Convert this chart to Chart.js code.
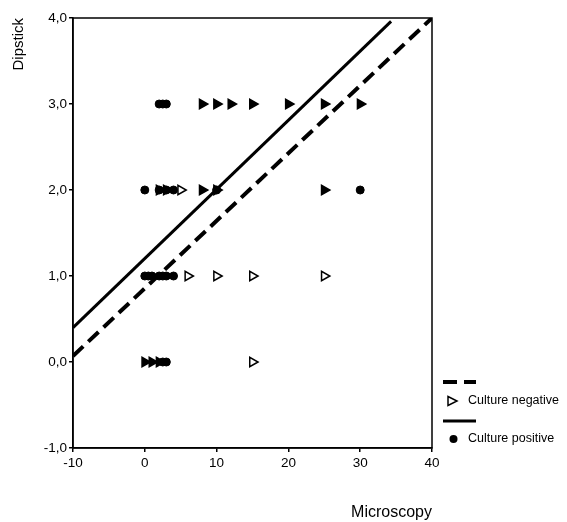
<!DOCTYPE html>
<html>
<head>
<meta charset="utf-8">
<script src="https://cdn.jsdelivr.net/npm/chart.js@4.4.0/dist/chart.umd.min.js"></script>
<style>
  html, body { margin: 0; padding: 0; background: #fff; }
  #wrap { width: 567px; height: 522px; position: relative; }
</style>
</head>
<body>
<div id="wrap"><canvas id="chart"></canvas></div>
<script>
// data
const xTicks = [-10, 0, 10, 20, 30, 40];
const yTicks = [-1, 0, 1, 2, 3, 4];

// Culture positive (dots)
const posX = [2, 2.5, 3,   0, 2, 3, 4, 10, 30,   0, 0.5, 1, 2, 2.5, 3, 4,   2.5, 3];
const posY = [3, 3, 3,     2, 2, 2, 2, 2, 2,     1, 1, 1, 1, 1, 1, 1,       0, 0];

// Culture negative (triangles)
const negX = [8, 10, 12, 15, 20, 25, 30,   2, 3, 5, 8, 10, 25,   6, 10, 15, 25,   0, 1, 2, 15];
const negY = [3, 3, 3, 3, 3, 3, 3,         2, 2, 2, 2, 2, 2,     1, 1, 1, 1,      0, 0, 0, 0];

// fit lines (end points)
const posFitX = [-10, 34.3];
const posFitY = [0.40, 3.96];
const negFitX = [-10, 40];
const negFitY = [0.07, 4.0];

const labels = ['Culture negative', 'Culture positive'];
const xTitle = 'Microscopy';
const yTitle = 'Dipstick';

// hollow / filled look of the triangles (style only)
const negFilled = [1, 1, 1, 1, 1, 1, 1,   1, 1, 0, 1, 1, 1,   0, 0, 0, 0,   1, 1, 1, 0];

const toPts = (xs, ys) => xs.map((x, i) => ({ x, y: ys[i] }));
const FONT = 'Liberation Sans, Arial, sans-serif';

// frame + custom legend
const framePlugin = {
  id: 'frame',
  afterDatasetsDraw(chart) {
    const { ctx, chartArea: a } = chart;
    ctx.save();
    ctx.strokeStyle = '#000';
    ctx.lineWidth = 1.5;
    ctx.strokeRect(a.left, a.top, a.right - a.left, a.bottom - a.top);
    ctx.restore();
  },
  afterDraw(chart) {
    const { ctx } = chart;
    const ds = chart.data.datasets;
    const x0 = 443, x1 = 476, tx = 468;
    ctx.save();
    ctx.strokeStyle = '#000';
    ctx.fillStyle = '#000';
    ctx.font = '12.5px ' + FONT;
    ctx.textBaseline = 'middle';

    // dashed line
    ctx.lineWidth = ds[2].borderWidth;
    ctx.setLineDash(ds[2].borderDash);
    ctx.beginPath(); ctx.moveTo(x0, 382); ctx.lineTo(x1, 382); ctx.stroke();
    ctx.setLineDash([]);

    // triangle
    ctx.lineWidth = 1.5;
    ctx.fillStyle = '#fff';
    ctx.beginPath();
    ctx.moveTo(448, 396.5); ctx.lineTo(457, 401); ctx.lineTo(448, 405.5); ctx.closePath();
    ctx.fill(); ctx.stroke();
    ctx.fillStyle = '#000';
    ctx.fillText(ds[0].label, tx, 401);

    // solid line
    ctx.lineWidth = ds[3].borderWidth;
    ctx.beginPath(); ctx.moveTo(x0, 421); ctx.lineTo(x1, 421); ctx.stroke();

    // dot
    ctx.beginPath(); ctx.arc(453.5, 439, 4, 0, Math.PI * 2); ctx.fill();
    ctx.fillText(ds[1].label, tx, 439);
    ctx.restore();
  }
};

new Chart(document.getElementById('chart'), {
  type: 'scatter',
  data: {
    datasets: [
      {
        label: labels[0],
        data: toPts(negX, negY),
        pointStyle: 'triangle',
        rotation: 90,
        radius: 5.5,
        borderColor: '#000',
        borderWidth: 1.5,
        backgroundColor: negFilled.map(f => f ? '#000' : '#fff'),
        order: 2
      },
      {
        label: labels[1],
        data: toPts(posX, posY),
        pointStyle: 'circle',
        radius: 4,
        borderColor: '#000',
        borderWidth: 1,
        backgroundColor: '#000',
        order: 3
      },
      {
        label: labels[0] + ' fit',
        type: 'line',
        data: toPts(negFitX, negFitY),
        borderColor: '#000',
        borderWidth: 4,
        borderDash: [14, 7],
        pointRadius: 0,
        fill: false,
        order: 1
      },
      {
        label: labels[1] + ' fit',
        type: 'line',
        data: toPts(posFitX, posFitY),
        borderColor: '#000',
        borderWidth: 3,
        pointRadius: 0,
        fill: false,
        order: 0
      }
    ]
  },
  options: {
    responsive: true,
    maintainAspectRatio: false,
    animation: false,
    layout: { padding: { top: 18, right: 135, left: 0, bottom: 0 } },
    plugins: {
      legend: { display: false },
      tooltip: { enabled: false }
    },
    scales: {
      x: {
        type: 'linear',
        min: xTicks[0],
        max: xTicks[xTicks.length - 1],
        afterBuildTicks: s => { s.ticks = xTicks.map(v => ({ value: v })); },
        afterFit: s => { s.height = 74; },
        grid: { drawOnChartArea: false, drawTicks: true, tickLength: 4, color: '#000', lineWidth: 1.5 },
        border: { display: true, color: '#000', width: 1.5 },
        ticks: { color: '#000', font: { family: FONT, size: 13.5 }, padding: 3, maxRotation: 0 },
        title: { display: true, text: xTitle, align: 'end', color: '#000',
                 font: { family: FONT, size: 16 }, padding: { top: 0, bottom: 0 } }
      },
      y: {
        type: 'linear',
        min: yTicks[0],
        max: yTicks[yTicks.length - 1],
        afterBuildTicks: s => { s.ticks = yTicks.map(v => ({ value: v })); },
        afterFit: s => { s.width = 73; },
        grid: { drawOnChartArea: false, drawTicks: true, tickLength: 4, color: '#000', lineWidth: 1.5 },
        border: { display: true, color: '#000', width: 1.5 },
        ticks: { color: '#000', font: { family: FONT, size: 13.5 }, padding: 2,
                 callback: v => v.toFixed(1).replace('.', ',') },
        title: { display: true, text: yTitle, align: 'end', color: '#000',
                 font: { family: FONT, size: 15 }, padding: { top: 10, bottom: 0 } }
      }
    }
  },
  plugins: [framePlugin]
});
</script>
</body>
</html>
